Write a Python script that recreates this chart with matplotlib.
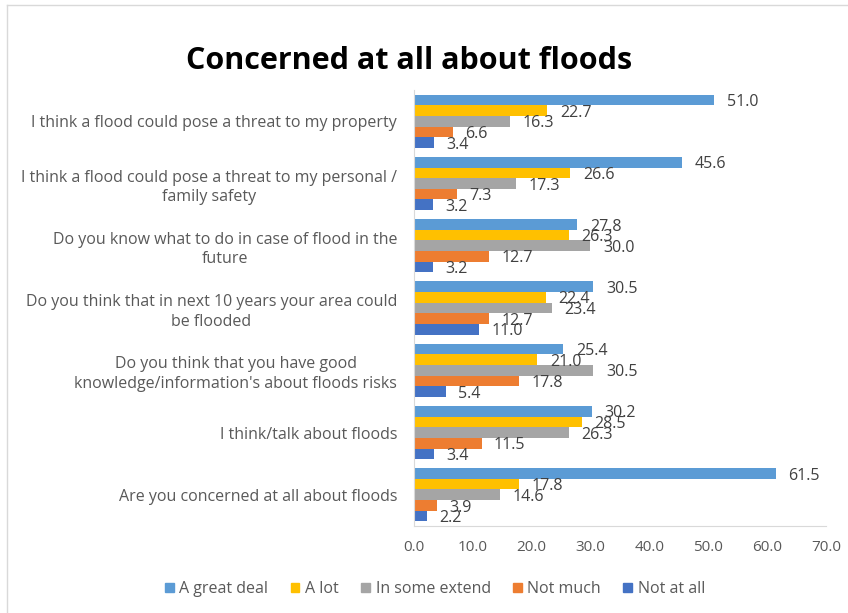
import numpy as np
import matplotlib
matplotlib.use("Agg")
from matplotlib import pyplot as plt
from matplotlib.lines import Line2D

# 问卷题目（从上到下）
categories = [
    "I think a flood could pose a threat to my property",
    "I think a flood could pose a threat to my personal /\nfamily safety",
    "Do you know what to do in case of flood in the\nfuture",
    "Do you think that in next 10 years your area could\nbe flooded",
    "Do you think that you have good\nknowledge/information's about floods risks",
    "I think/talk about floods",
    "Are you concerned at all about floods",
]
series_names = ["A great deal", "A lot", "In some extend", "Not much", "Not at all"]
great_deal = [51.0, 45.6, 27.8, 30.5, 25.4, 30.2, 61.5]
a_lot = [22.7, 26.6, 26.3, 22.4, 21.0, 28.5, 17.8]
some_extend = [16.3, 17.3, 30.0, 23.4, 30.5, 26.3, 14.6]
not_much = [6.6, 7.3, 12.7, 12.7, 17.8, 11.5, 3.9]
not_at_all = [3.4, 3.2, 3.2, 11.0, 5.4, 3.4, 2.2]
colors = ["#5B9BD5", "#FFC000", "#A5A5A5", "#ED7D31", "#4472C4"]

plt.rcParams["font.family"] = ["Open Sans", "DejaVu Sans"]

fig = plt.figure(figsize=(8.48, 6.13), dpi=100)
ax = fig.add_axes([0.488, 0.142, 0.486, 0.711])

values = [great_deal, a_lot, some_extend, not_much, not_at_all]
n = len(categories)
y = np.arange(n)
bar_h = 0.171
for i, (name, vals, c) in enumerate(zip(series_names, values, colors)):
    pos = y + (i - 2) * bar_h
    ax.barh(pos, vals, height=bar_h, color=c, label=name)
    for p, v in zip(pos, vals):
        ax.annotate(f"{v:.1f}", (v, p), xytext=(9, -1.5), textcoords="offset points",
                    ha="left", va="center", fontsize=11.5, color="#404040")

ax.set_ylim(n - 0.5, -0.5)
ax.set_xlim(0, 70)
ticks = np.arange(0, 71, 10)
ax.set_xticks(ticks)
ax.set_xticklabels([f"{t:.1f}" for t in ticks], fontsize=11, color="#595959")
ax.set_yticks(y)
ax.set_yticklabels(categories, fontsize=11.5, color="#595959", multialignment="center")
for lbl in ax.get_yticklabels():
    lbl.set_linespacing(1.3)
ax.tick_params(axis="both", length=0)
ax.tick_params(axis="y", pad=12)
ax.tick_params(axis="x", pad=10)
for s in ["top", "right"]:
    ax.spines[s].set_visible(False)
for s in ["left", "bottom"]:
    ax.spines[s].set_color("#D9D9D9")

fig.text(0.482, 0.9, "Concerned at all about floods", ha="center", va="center",
         fontsize=22, fontweight="bold", color="black")

handles = [plt.Rectangle((0, 0), 1, 1, color=c) for c in colors]
fig.legend(handles, series_names, loc="center", bbox_to_anchor=(0.513, 0.039), ncol=5,
           frameon=False, fontsize=11.5, handlelength=0.55, handleheight=0.55,
           handletextpad=0.35, columnspacing=1.4, labelcolor="#595959")

# 图表外框（左、上）
fig.add_artist(Line2D([0.008, 0.008], [0.0, 0.992], transform=fig.transFigure, color="#D9D9D9", lw=1))
fig.add_artist(Line2D([0.008, 1.0], [0.992, 0.992], transform=fig.transFigure, color="#D9D9D9", lw=1))

fig.savefig("out.png", dpi=100)
